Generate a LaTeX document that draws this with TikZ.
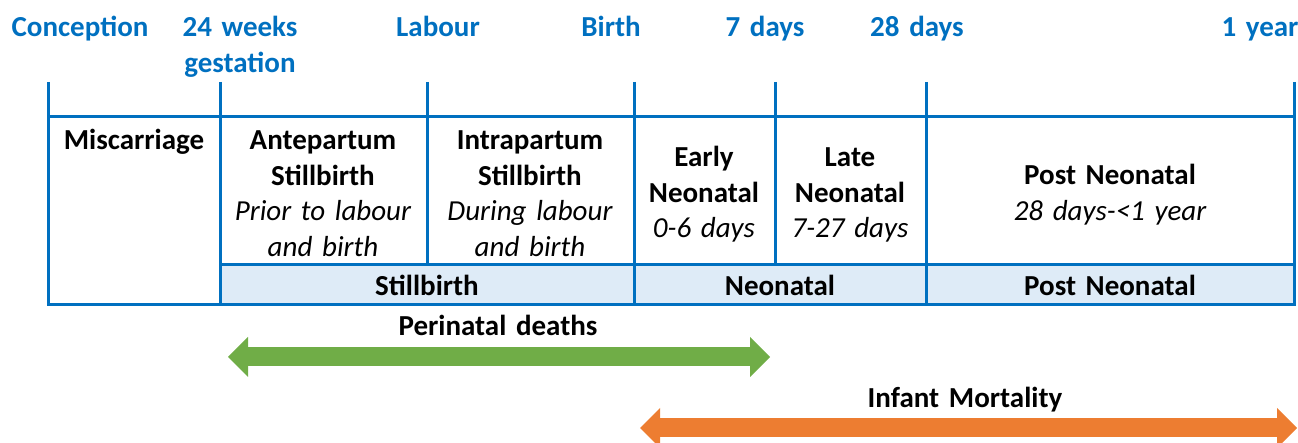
\documentclass[tikz,border=0pt]{standalone}
\usepackage{fontspec}
\setmainfont{Carlito}
\usepackage{xcolor}
\usetikzlibrary{arrows.meta}

\definecolor{lineblue}{HTML}{0070C0}
\definecolor{bandblue}{HTML}{DEEBF7}
\definecolor{perigreen}{HTML}{70AD47}
\definecolor{infantorange}{HTML}{ED7D31}

\begin{document}
\begin{tikzpicture}[
  x=0.5pt, y=-0.5pt,
  every node/.style={font=\fontsize{14.5}{17.75}\selectfont\bfseries, inner sep=0pt},
  milestone/.style={anchor=base, text=lineblue, text width=75pt, align=center},
  cell/.style={anchor=base, text width=100pt, align=center},
  grid/.style={draw=lineblue, line width=1.5pt},
  span/.style={line width=9.5pt,
               {Triangle[length=10pt, width=20pt, line width=0pt]}-{Triangle[length=10pt, width=20pt, line width=0pt]}}
]
\useasboundingbox (0,0) rectangle (1298,443);

\node[milestone] (concep) at (80,37)   {Conception};
\node[milestone] (wk24)   at (240,37)  {24 weeks\\gestation};
\node[milestone] (labour) at (438,37)  {Labour};
\node[milestone] (birth)  at (611,37)  {Birth};
\node[milestone] (day7)   at (765,37)  {7 days};
\node[milestone] (day28)  at (917,37)  {28 days};
\node[milestone] (year1)  at (1260,37) {1 year};

\fill[bandblue] (220,265) rectangle (1294,305);
\foreach \x in {48,220,427,634,775,926,1294}
  \draw[grid] (\x,82) -- (\x,117);
\draw[grid] (48,117) rectangle (1294,305);
\draw[grid] (220,265) -- (1294,265);
\foreach \x in {220,634,926}
  \draw[grid] (\x,117) -- (\x,305);
\foreach \x in {427,775}
  \draw[grid] (\x,117) -- (\x,265);

\node[cell] (misc)  at (134,150)  {Miscarriage};
\node[cell] (ante)  at (323,150)  {Antepartum\\Stillbirth\\{\mdseries\itshape Prior to labour\\and birth}};
\node[cell] (intra) at (530,150)  {Intrapartum\\Stillbirth\\{\mdseries\itshape During labour\\and birth}};
\node[cell] (early) at (704,167)  {Early\\Neonatal\\{\mdseries\itshape 0-6 days}};
\node[cell] (late)  at (850,167)  {Late\\Neonatal\\{\mdseries\itshape 7-27 days}};
\node[cell] (postn) at (1110,185) {Post Neonatal\\{\mdseries\itshape 28 days-<1 year}};

\node[cell] (still) at (427,296)  {Stillbirth};
\node[cell] (neo)   at (780,296)  {Neonatal};
\node[cell] (post)  at (1110,296) {Post Neonatal};

\coordinate (peri-l) at (228,357);
\coordinate (peri-r) at (770,357);
\draw[span, perigreen] (peri-l) -- (peri-r);
\node[cell] (peri) at (498,336) {Perinatal deaths};

\coordinate (inf-l) at (640,428);
\coordinate (inf-r) at (1297,428);
\draw[span, infantorange] (inf-l) -- (inf-r);
\node[cell] (inf) at (965,408) {Infant Mortality};
\end{tikzpicture}
\end{document}
